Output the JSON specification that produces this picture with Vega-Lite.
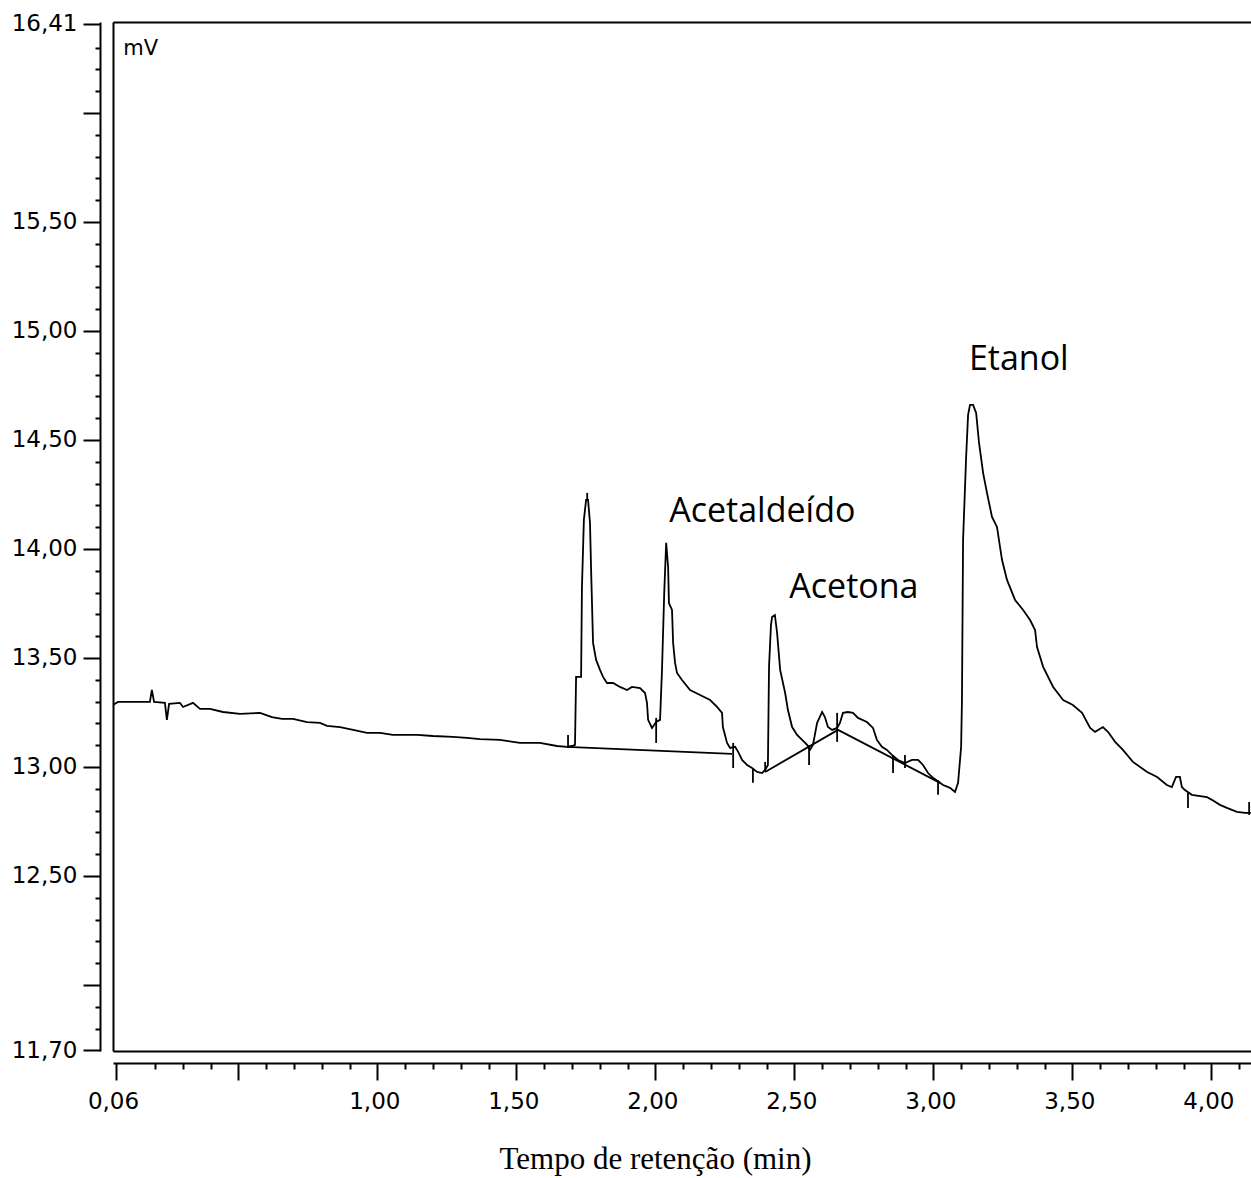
{
  "$schema": "https://vega.github.io/schema/vega-lite/v6.json",
  "width": 1138,
  "height": 1029,
  "autosize": "none",
  "padding": {"left": 113, "top": 22, "right": 0, "bottom": 127},
  "background": "white",
  "config": {
    "view": {"stroke": null},
    "axis": {"grid": false, "domainColor": "#000", "domainWidth": 2, "tickColor": "#000", "tickWidth": 2, "labelColor": "#000", "labelFont": "DejaVu Sans", "labelFontSize": 23, "labelOverlap": false, "labelFlush": false, "labelBound": false, "titleColor": "#000"}
  },
  "datasets": {
    "curve": [
      {"t":0.049,"v":13.284},{"t":0.067,"v":13.298},{"t":0.121,"v":13.298},{"t":0.182,"v":13.298},{"t":0.189,"v":13.353},{"t":0.197,"v":13.298},
      {"t":0.236,"v":13.294},{"t":0.243,"v":13.216},{"t":0.251,"v":13.289},{"t":0.290,"v":13.294},{"t":0.301,"v":13.275},{"t":0.337,"v":13.294},
      {"t":0.362,"v":13.266},{"t":0.398,"v":13.266},{"t":0.445,"v":13.252},{"t":0.506,"v":13.243},{"t":0.578,"v":13.248},{"t":0.621,"v":13.229},
      {"t":0.657,"v":13.220},{"t":0.697,"v":13.220},{"t":0.747,"v":13.206},{"t":0.794,"v":13.202},{"t":0.819,"v":13.188},{"t":0.866,"v":13.183},
      {"t":0.913,"v":13.170},{"t":0.963,"v":13.156},{"t":1.010,"v":13.156},{"t":1.056,"v":13.147},{"t":1.143,"v":13.147},{"t":1.200,"v":13.142},
      {"t":1.272,"v":13.138},{"t":1.323,"v":13.133},{"t":1.369,"v":13.128},{"t":1.441,"v":13.124},{"t":1.513,"v":13.110},{"t":1.585,"v":13.110},
      {"t":1.646,"v":13.096},{"t":1.682,"v":13.092},{"t":1.700,"v":13.096},{"t":1.711,"v":13.101},{"t":1.715,"v":13.413},{"t":1.733,"v":13.413},
      {"t":1.736,"v":13.821},{"t":1.743,"v":14.133},{"t":1.751,"v":14.225},{"t":1.758,"v":14.225},{"t":1.765,"v":14.119},{"t":1.769,"v":13.904},
      {"t":1.776,"v":13.569},{"t":1.787,"v":13.491},{"t":1.801,"v":13.445},{"t":1.812,"v":13.413},{"t":1.826,"v":13.385},{"t":1.848,"v":13.385},
      {"t":1.873,"v":13.367},{"t":1.898,"v":13.353},{"t":1.916,"v":13.367},{"t":1.945,"v":13.362},{"t":1.963,"v":13.339},{"t":1.970,"v":13.294},
      {"t":1.974,"v":13.216},{"t":1.988,"v":13.179},{"t":2.003,"v":13.206},{"t":2.017,"v":13.216},{"t":2.024,"v":13.445},{"t":2.032,"v":13.798},
      {"t":2.039,"v":14.028},{"t":2.046,"v":13.917},{"t":2.049,"v":13.752},{"t":2.060,"v":13.720},{"t":2.064,"v":13.569},{"t":2.071,"v":13.477},
      {"t":2.078,"v":13.431},{"t":2.096,"v":13.399},{"t":2.125,"v":13.353},{"t":2.161,"v":13.330},{"t":2.197,"v":13.307},{"t":2.222,"v":13.275},
      {"t":2.240,"v":13.248},{"t":2.243,"v":13.183},{"t":2.258,"v":13.110},{"t":2.269,"v":13.087},{"t":2.287,"v":13.092},{"t":2.298,"v":13.069},
      {"t":2.312,"v":13.032},{"t":2.330,"v":13.009},{"t":2.348,"v":12.995},{"t":2.366,"v":12.977},{"t":2.384,"v":12.972},{"t":2.395,"v":12.986},
      {"t":2.405,"v":13.009},{"t":2.409,"v":13.459},{"t":2.416,"v":13.651},{"t":2.420,"v":13.688},{"t":2.430,"v":13.697},{"t":2.438,"v":13.615},
      {"t":2.449,"v":13.445},{"t":2.467,"v":13.339},{"t":2.477,"v":13.261},{"t":2.492,"v":13.183},{"t":2.510,"v":13.147},{"t":2.528,"v":13.124},
      {"t":2.546,"v":13.101},{"t":2.556,"v":13.078},{"t":2.567,"v":13.101},{"t":2.582,"v":13.202},{"t":2.600,"v":13.252},{"t":2.610,"v":13.229},
      {"t":2.621,"v":13.183},{"t":2.636,"v":13.170},{"t":2.654,"v":13.179},{"t":2.664,"v":13.202},{"t":2.675,"v":13.248},{"t":2.693,"v":13.252},
      {"t":2.711,"v":13.248},{"t":2.729,"v":13.225},{"t":2.761,"v":13.206},{"t":2.783,"v":13.179},{"t":2.797,"v":13.124},{"t":2.815,"v":13.092},
      {"t":2.833,"v":13.078},{"t":2.851,"v":13.055},{"t":2.873,"v":13.032},{"t":2.898,"v":13.018},{"t":2.923,"v":13.032},{"t":2.945,"v":13.032},
      {"t":2.963,"v":13.009},{"t":2.981,"v":12.972},{"t":2.999,"v":12.950},{"t":3.035,"v":12.917},{"t":3.060,"v":12.904},{"t":3.078,"v":12.885},
      {"t":3.089,"v":12.927},{"t":3.100,"v":13.092},{"t":3.103,"v":13.307},{"t":3.107,"v":14.041},{"t":3.118,"v":14.422},{"t":3.125,"v":14.615},
      {"t":3.132,"v":14.661},{"t":3.143,"v":14.661},{"t":3.154,"v":14.624},{"t":3.164,"v":14.491},{"t":3.179,"v":14.349},{"t":3.193,"v":14.257},
      {"t":3.211,"v":14.147},{"t":3.229,"v":14.101},{"t":3.247,"v":13.950},{"t":3.265,"v":13.858},{"t":3.294,"v":13.766},{"t":3.323,"v":13.720},
      {"t":3.348,"v":13.674},{"t":3.366,"v":13.628},{"t":3.373,"v":13.550},{"t":3.395,"v":13.459},{"t":3.431,"v":13.367},{"t":3.467,"v":13.307},
      {"t":3.502,"v":13.284},{"t":3.535,"v":13.248},{"t":3.564,"v":13.179},{"t":3.582,"v":13.161},{"t":3.610,"v":13.183},{"t":3.628,"v":13.161},
      {"t":3.654,"v":13.115},{"t":3.682,"v":13.078},{"t":3.718,"v":13.023},{"t":3.769,"v":12.977},{"t":3.805,"v":12.954},{"t":3.840,"v":12.917},
      {"t":3.858,"v":12.908},{"t":3.873,"v":12.954},{"t":3.887,"v":12.954},{"t":3.894,"v":12.908},{"t":3.905,"v":12.894},{"t":3.930,"v":12.872},
      {"t":3.984,"v":12.862},{"t":4.002,"v":12.849},{"t":4.031,"v":12.826},{"t":4.056,"v":12.812},{"t":4.092,"v":12.794},{"t":4.121,"v":12.789},
      {"t":4.142,"v":12.789}
    ],
    "base": [
      {"seg":"A","t":1.682,"v":13.092},{"seg":"A","t":2.276,"v":13.060},
      {"seg":"B","t":2.395,"v":12.977},{"seg":"B","t":2.657,"v":13.170},{"seg":"B","t":3.024,"v":12.927}
    ],
    "marks": [
      {"t":1.686,"v1":13.147,"v2":13.087},{"t":1.755,"v1":14.257,"v2":14.225},{"t":2.003,"v1":13.225,"v2":13.110},
      {"t":2.280,"v1":13.110,"v2":12.995},{"t":2.351,"v1":12.995,"v2":12.927},{"t":2.395,"v1":13.023,"v2":12.977},
      {"t":2.553,"v1":13.101,"v2":13.009},{"t":2.654,"v1":13.248,"v2":13.115},{"t":2.855,"v1":13.055,"v2":12.972},
      {"t":2.898,"v1":13.055,"v2":12.995},{"t":3.017,"v1":12.940,"v2":12.872},{"t":3.916,"v1":12.881,"v2":12.812},
      {"t":4.136,"v1":12.839,"v2":12.780}
    ],
    "notes": [
      {"label":"Acetaldeído","t":2.050,"v":14.124},
      {"label":"Acetona","t":2.482,"v":13.775},
      {"label":"Etanol","t":3.128,"v":14.821}
    ],
    "unit": [{"label":"mV","t":0.086,"v":16.266}]
  },
  "layer": [
    {
      "data": {"name": "curve"},
      "mark": {"type": "line", "color": "#000", "strokeWidth": 1.8, "clip": true, "interpolate": "linear"},
      "encoding": {
        "x": {"field": "t", "type": "quantitative", "scale": {"domain": [0.0492, 4.1427], "nice": false, "zero": false},
          "axis": {"orient": "bottom", "offset": 12, "values": [0.06, 0.5, 1, 1.5, 2, 2.5, 3, 3.5, 4], "tickSize": 17,
            "labelExpr": "datum.value == 0.5 ? '' : replace(format(datum.value, '.2f'), '.', ',')",
            "labelBaseline": "alphabetic", "labelPadding": 28, "labelOffset": -3, "labelAlign": "center",
            "title": "Tempo de retenção (min)", "titleFont": "Liberation Serif", "titleFontSize": 31, "titleFontWeight": "normal",
            "titleX": 542, "titleY": 105, "titleAlign": "center", "titleBaseline": "alphabetic", "titleAnchor": null}},
        "y": {"field": "v", "type": "quantitative", "scale": {"domain": [11.697, 16.417], "nice": false, "zero": false},
          "axis": {"orient": "left", "offset": 13, "values": [11.7, 12, 12.5, 13, 13.5, 14, 14.5, 15, 15.5, 16, 16.41], "tickSize": 17,
            "labelExpr": "(datum.value == 12 || datum.value == 16) ? '' : replace(format(datum.value, '.2f'), '.', ',')",
            "labelBaseline": "middle", "labelPadding": 6, "labelAlign": "right", "title": null}}
      }
    },
    {
      "data": {"name": "base"},
      "mark": {"type": "line", "color": "#000", "strokeWidth": 1.8, "clip": true},
      "encoding": {
        "x": {"field": "t", "type": "quantitative", "scale": {"domain": [0.0492, 4.1427], "nice": false, "zero": false},
          "axis": {"orient": "bottom", "offset": 12, "values": [0.2,0.3,0.4,0.6,0.7,0.8,0.9,1.1,1.2,1.3,1.4,1.6,1.7,1.8,1.9,2.1,2.2,2.3,2.4,2.6,2.7,2.8,2.9,3.1,3.2,3.3,3.4,3.6,3.7,3.8,3.9,4.1],
            "tickSize": 6, "labels": false, "domain": false, "title": null}},
        "y": {"field": "v", "type": "quantitative", "scale": {"domain": [11.697, 16.417], "nice": false, "zero": false},
          "axis": {"orient": "left", "offset": 13, "values": [11.8,11.9,12.1,12.2,12.3,12.4,12.6,12.7,12.8,12.9,13.1,13.2,13.3,13.4,13.6,13.7,13.8,13.9,14.1,14.2,14.3,14.4,14.6,14.7,14.8,14.9,15.1,15.2,15.3,15.4,15.6,15.7,15.8,15.9,16.1,16.2,16.3],
            "tickSize": 5, "labels": false, "domain": false, "title": null}},
        "detail": {"field": "seg", "type": "nominal"}
      }
    },
    {
      "data": {"name": "marks"},
      "mark": {"type": "rule", "color": "#000", "strokeWidth": 1.8, "clip": true},
      "encoding": {
        "x": {"field": "t", "type": "quantitative", "scale": {"domain": [0.0492, 4.1427], "nice": false, "zero": false},
          "axis": {"orient": "top", "offset": 0, "ticks": false, "labels": false, "domain": true, "title": null}},
        "y": {"field": "v1", "type": "quantitative", "scale": {"domain": [11.697, 16.417], "nice": false, "zero": false},
          "axis": {"orient": "left", "offset": 0, "ticks": false, "labels": false, "domain": true, "title": null}},
        "y2": {"field": "v2"}
      }
    },
    {
      "data": {"name": "notes"},
      "mark": {"type": "text", "font": "Open Sans", "fontSize": 34, "color": "#000", "align": "left", "baseline": "alphabetic"},
      "encoding": {
        "x": {"field": "t", "type": "quantitative", "scale": {"domain": [0.0492, 4.1427], "nice": false, "zero": false},
          "axis": {"orient": "bottom", "offset": 0, "ticks": false, "labels": false, "domain": true, "title": null}},
        "y": {"field": "v", "type": "quantitative", "scale": {"domain": [11.697, 16.417], "nice": false, "zero": false}, "axis": null},
        "text": {"field": "label", "type": "nominal"}
      }
    },
    {
      "data": {"name": "unit"},
      "mark": {"type": "text", "font": "DejaVu Sans", "fontSize": 21, "color": "#000", "align": "left", "baseline": "alphabetic"},
      "encoding": {
        "x": {"field": "t", "type": "quantitative", "scale": {"domain": [0.0492, 4.1427], "nice": false, "zero": false}, "axis": null},
        "y": {"field": "v", "type": "quantitative", "scale": {"domain": [11.697, 16.417], "nice": false, "zero": false}, "axis": null},
        "text": {"field": "label", "type": "nominal"}
      }
    }
  ],
  "resolve": {"axis": {"x": "independent", "y": "independent"}}
}
